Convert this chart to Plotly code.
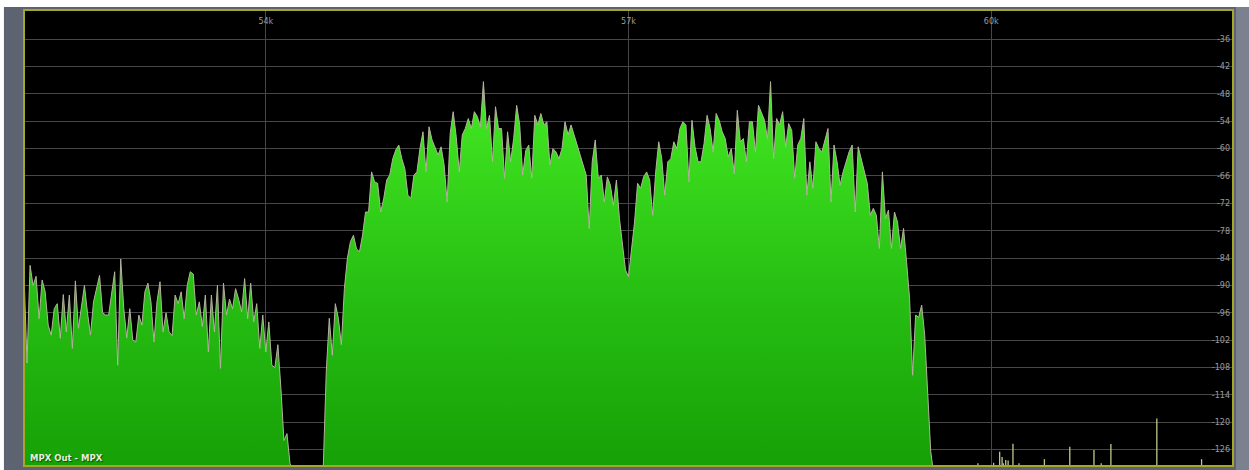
import plotly.graph_objects as go

# ---------------- data ----------------
BIN_KHZ = 0.025          # analyser bin width in kHz

# left band (below the 54k line)
SEG_A_START = 52.0
SEG_A_LEVELS = [
    -87.5, -107.0, -85.6, -90.0, -88.0, -97.3, -88.8, -91.4, -98.7, -100.9,
    -95.1, -94.0, -101.6, -92.0, -100.2, -92.1, -103.8, -89.0, -99.4, -95.1,
    -90.0, -96.0, -100.9, -93.6, -90.7, -87.8, -96.0, -96.5, -96.5, -91.4,
    -87.0, -107.5, -84.2, -95.0, -101.5, -95.1, -102.0, -102.4, -96.5, -98.7,
    -91.4, -89.5, -93.6, -102.4, -93.6, -89.2, -100.2, -96.0, -100.2, -101.0,
    -92.1, -94.0, -91.4, -97.3, -90.0, -87.0, -87.5, -96.5, -93.6, -99.0,
    -92.1, -104.6, -92.1, -100.2, -90.0, -108.2, -89.5, -96.5, -93.0, -95.1,
    -90.7, -93.0, -95.8, -88.5, -97.3, -89.5, -98.0, -94.0, -103.8, -96.5,
    -104.6, -98.0, -107.5, -108.0, -103.0, -112.6, -124.0, -122.5, -129.0, -131.0,
]

# double-sideband lobes around 57k
SEG_B_START = 54.475
SEG_B_LEVELS = [
    -130.1, -108.9, -97.2, -105.3, -94.0, -97.2, -103.0, -90.7, -84.0, -80.4,
    -79.0, -82.0, -82.6, -79.0, -73.9, -73.9, -65.1, -67.3, -67.6, -73.9,
    -71.0, -66.9, -65.8, -62.2, -60.3, -59.2, -62.2, -64.4, -70.2, -70.9,
    -65.8, -65.1, -60.0, -56.3, -65.1, -55.2, -58.1, -59.6, -61.4, -59.6,
    -63.6, -71.7, -56.7, -51.9, -57.4, -65.1, -57.0, -55.6, -53.4, -55.6,
    -51.9, -53.0, -55.2, -45.3, -55.6, -52.7, -62.9, -50.8, -55.6, -55.6,
    -66.5, -56.3, -62.9, -57.8, -50.5, -54.8, -65.8, -60.4, -59.2, -66.5,
    -52.7, -54.8, -52.3, -54.8, -54.1, -63.6, -60.0, -60.7, -62.2, -60.0,
    -54.1, -57.0, -54.8, -57.0, -59.2, -61.0, -63.6, -65.8, -77.5, -62.9,
    -58.1, -66.5, -65.8, -71.7, -66.2, -68.0, -72.4, -66.9, -75.3, -81.5,
    -86.6, -88.1, -81.9, -76.1, -67.6, -68.7, -66.2, -65.1, -66.9, -74.6,
    -65.1, -58.5, -62.2, -70.2, -62.9, -62.2, -58.5, -60.0, -55.6, -54.1,
    -54.8, -67.3, -53.8, -59.6, -62.9, -62.9, -58.9, -52.7, -55.6, -60.7,
    -52.3, -53.8, -56.3, -57.8, -61.8, -60.0, -65.5, -51.6, -58.5, -57.8,
    -62.9, -54.1, -54.1, -60.7, -50.5, -52.3, -53.8, -57.8, -45.3, -62.2,
    -53.4, -54.8, -51.9, -59.6, -54.5, -56.0, -66.5, -59.2, -57.8, -53.4,
    -70.2, -62.9, -68.7, -58.5, -60.0, -60.7, -58.1, -55.6, -71.7, -59.2,
    -62.9, -68.0, -65.1, -62.9, -60.7, -59.2, -73.9, -59.6, -62.2, -65.1,
    -67.6, -74.6, -73.1, -74.6, -81.9, -65.1, -75.3, -73.5, -81.9, -73.9,
    -76.1, -81.9, -77.5, -84.8, -92.9, -109.7, -96.5, -97.0, -94.3, -100.9,
    -114.1, -126.5, -131.5,
]

# isolated tones above 59.3k
SPIKE_FREQS = [59.89, 60.02, 60.07, 60.09, 60.10, 60.12, 60.14, 60.18, 60.23,
               60.29, 60.44, 60.65, 60.85, 60.91, 60.99, 61.28, 61.37, 61.74]
SPIKE_LEVELS = [-129.0, -128.9, -126.5, -127.6, -129.0, -128.3, -128.4, -124.7, -129.0,
                -129.4, -128.1, -125.4, -126.1, -129.0, -124.8, -129.8, -119.2, -128.1]

X_TICKS = [54, 57, 60]
X_TICK_TEXT = ["54k", "57k", "60k"]
Y_TICKS = [-36, -42, -48, -54, -60, -66, -72, -78, -84, -90, -96, -102, -108, -114, -120, -126]
Y_TICK_TEXT = ["-36", "-42", "-48", "-54", "-60", "-66", "-72", "-78", "-84", "-90",
               "-96", "-102", "-108", "-114", "-120", "-126"]
X_RANGE = [52.0, 62.0]
Y_RANGE = [-129.6, -29.6]
FLOOR = -131.0
LABEL = "MPX Out - MPX"

# ---------------- styling ----------------
GREEN_SCALE = [[0.0, "#16a006"], [0.45, "#27bf13"], [1.0, "#44ea22"]]
LINE_COLOR = "#b3b39b"
GRID_COLOR = "#474747"
TICK_COLOR = "#9c9c9c"
FRAME_COLOR = "#a6a628"
PANEL_COLOR = "#5d6371"

fig = go.Figure()


def bins(start, n):
    return [start + BIN_KHZ * i for i in range(n)]


for start, levels in [(SEG_A_START, SEG_A_LEVELS), (SEG_B_START, SEG_B_LEVELS)]:
    xs = bins(start, len(levels))
    fig.add_trace(go.Scatter(x=[xs[0], xs[-1]], y=[FLOOR, FLOOR], mode="lines",
                             line=dict(width=0, color="rgba(0,0,0,0)"),
                             hoverinfo="skip", showlegend=False))
    fig.add_trace(go.Scatter(x=xs, y=levels, mode="lines", fill="tonexty",
                             fillgradient=dict(type="vertical", colorscale=GREEN_SCALE,
                                               start=-130, stop=-45),
                             line=dict(color=LINE_COLOR, width=1),
                             showlegend=False))

sx, sy = [], []
for f, lv in zip(SPIKE_FREQS, SPIKE_LEVELS):
    sx += [f, f, None]
    sy += [FLOOR, lv, None]
fig.add_trace(go.Scatter(x=sx, y=sy, mode="lines",
                         line=dict(color="#bccb8c", width=1.3), showlegend=False))

fig.update_layout(
    width=1249, height=470,
    margin=dict(l=24, r=16, t=10, b=4),
    paper_bgcolor=PANEL_COLOR,
    plot_bgcolor="#000000",
    showlegend=False,
    xaxis=dict(range=X_RANGE, side="top", tickvals=X_TICKS, ticktext=X_TICK_TEXT,
               ticklabelposition="inside", ticks="", ticklabelstandoff=5,
               showgrid=True, gridcolor=GRID_COLOR,
               gridwidth=1, zeroline=False, showline=False,
               tickfont=dict(family="DejaVu Sans", size=8, color=TICK_COLOR)),
    yaxis=dict(range=Y_RANGE, side="right", tickvals=Y_TICKS, ticktext=Y_TICK_TEXT,
               ticklabelposition="inside", ticks="", showgrid=True, gridcolor=GRID_COLOR,
               gridwidth=1, zeroline=False, showline=False,
               tickfont=dict(family="DejaVu Sans", size=8, color=TICK_COLOR)),
    shapes=[
        dict(type="rect", xref="paper", yref="paper", x0=-0.05, x1=1.05, y0=1.0066, y1=1.05,
             fillcolor="#ffffff", line=dict(width=0), layer="above"),
        dict(type="rect", xref="paper", yref="paper", x0=-0.05, x1=-0.0166, y0=-0.05, y1=1.05,
             fillcolor="#ffffff", line=dict(width=0), layer="above"),
        dict(type="rect", xref="paper", yref="paper", x0=1.0025, x1=1.05, y0=-0.05, y1=1.0066,
             fillcolor="#7b818f", line=dict(width=0), layer="above"),
        dict(type="rect", xref="paper", yref="paper", x0=0, x1=1, y0=0, y1=1,
             line=dict(color=FRAME_COLOR, width=2), fillcolor="rgba(0,0,0,0)", layer="above"),
    ],
    annotations=[
        dict(text="<b>" + LABEL + "</b>", xref="paper", yref="paper", x=0.0033, y=0.018,
             xanchor="left", yanchor="middle", showarrow=False,
             font=dict(family="DejaVu Sans", size=8.5, color="#e6eedc",
                       shadow="1px 1px 1px #0b4d00")),
    ],
)

fig.write_html("out.html", config={"displayModeBar": False},
               post_script="document.body.style.margin='0';document.body.style.overflow='hidden';")
